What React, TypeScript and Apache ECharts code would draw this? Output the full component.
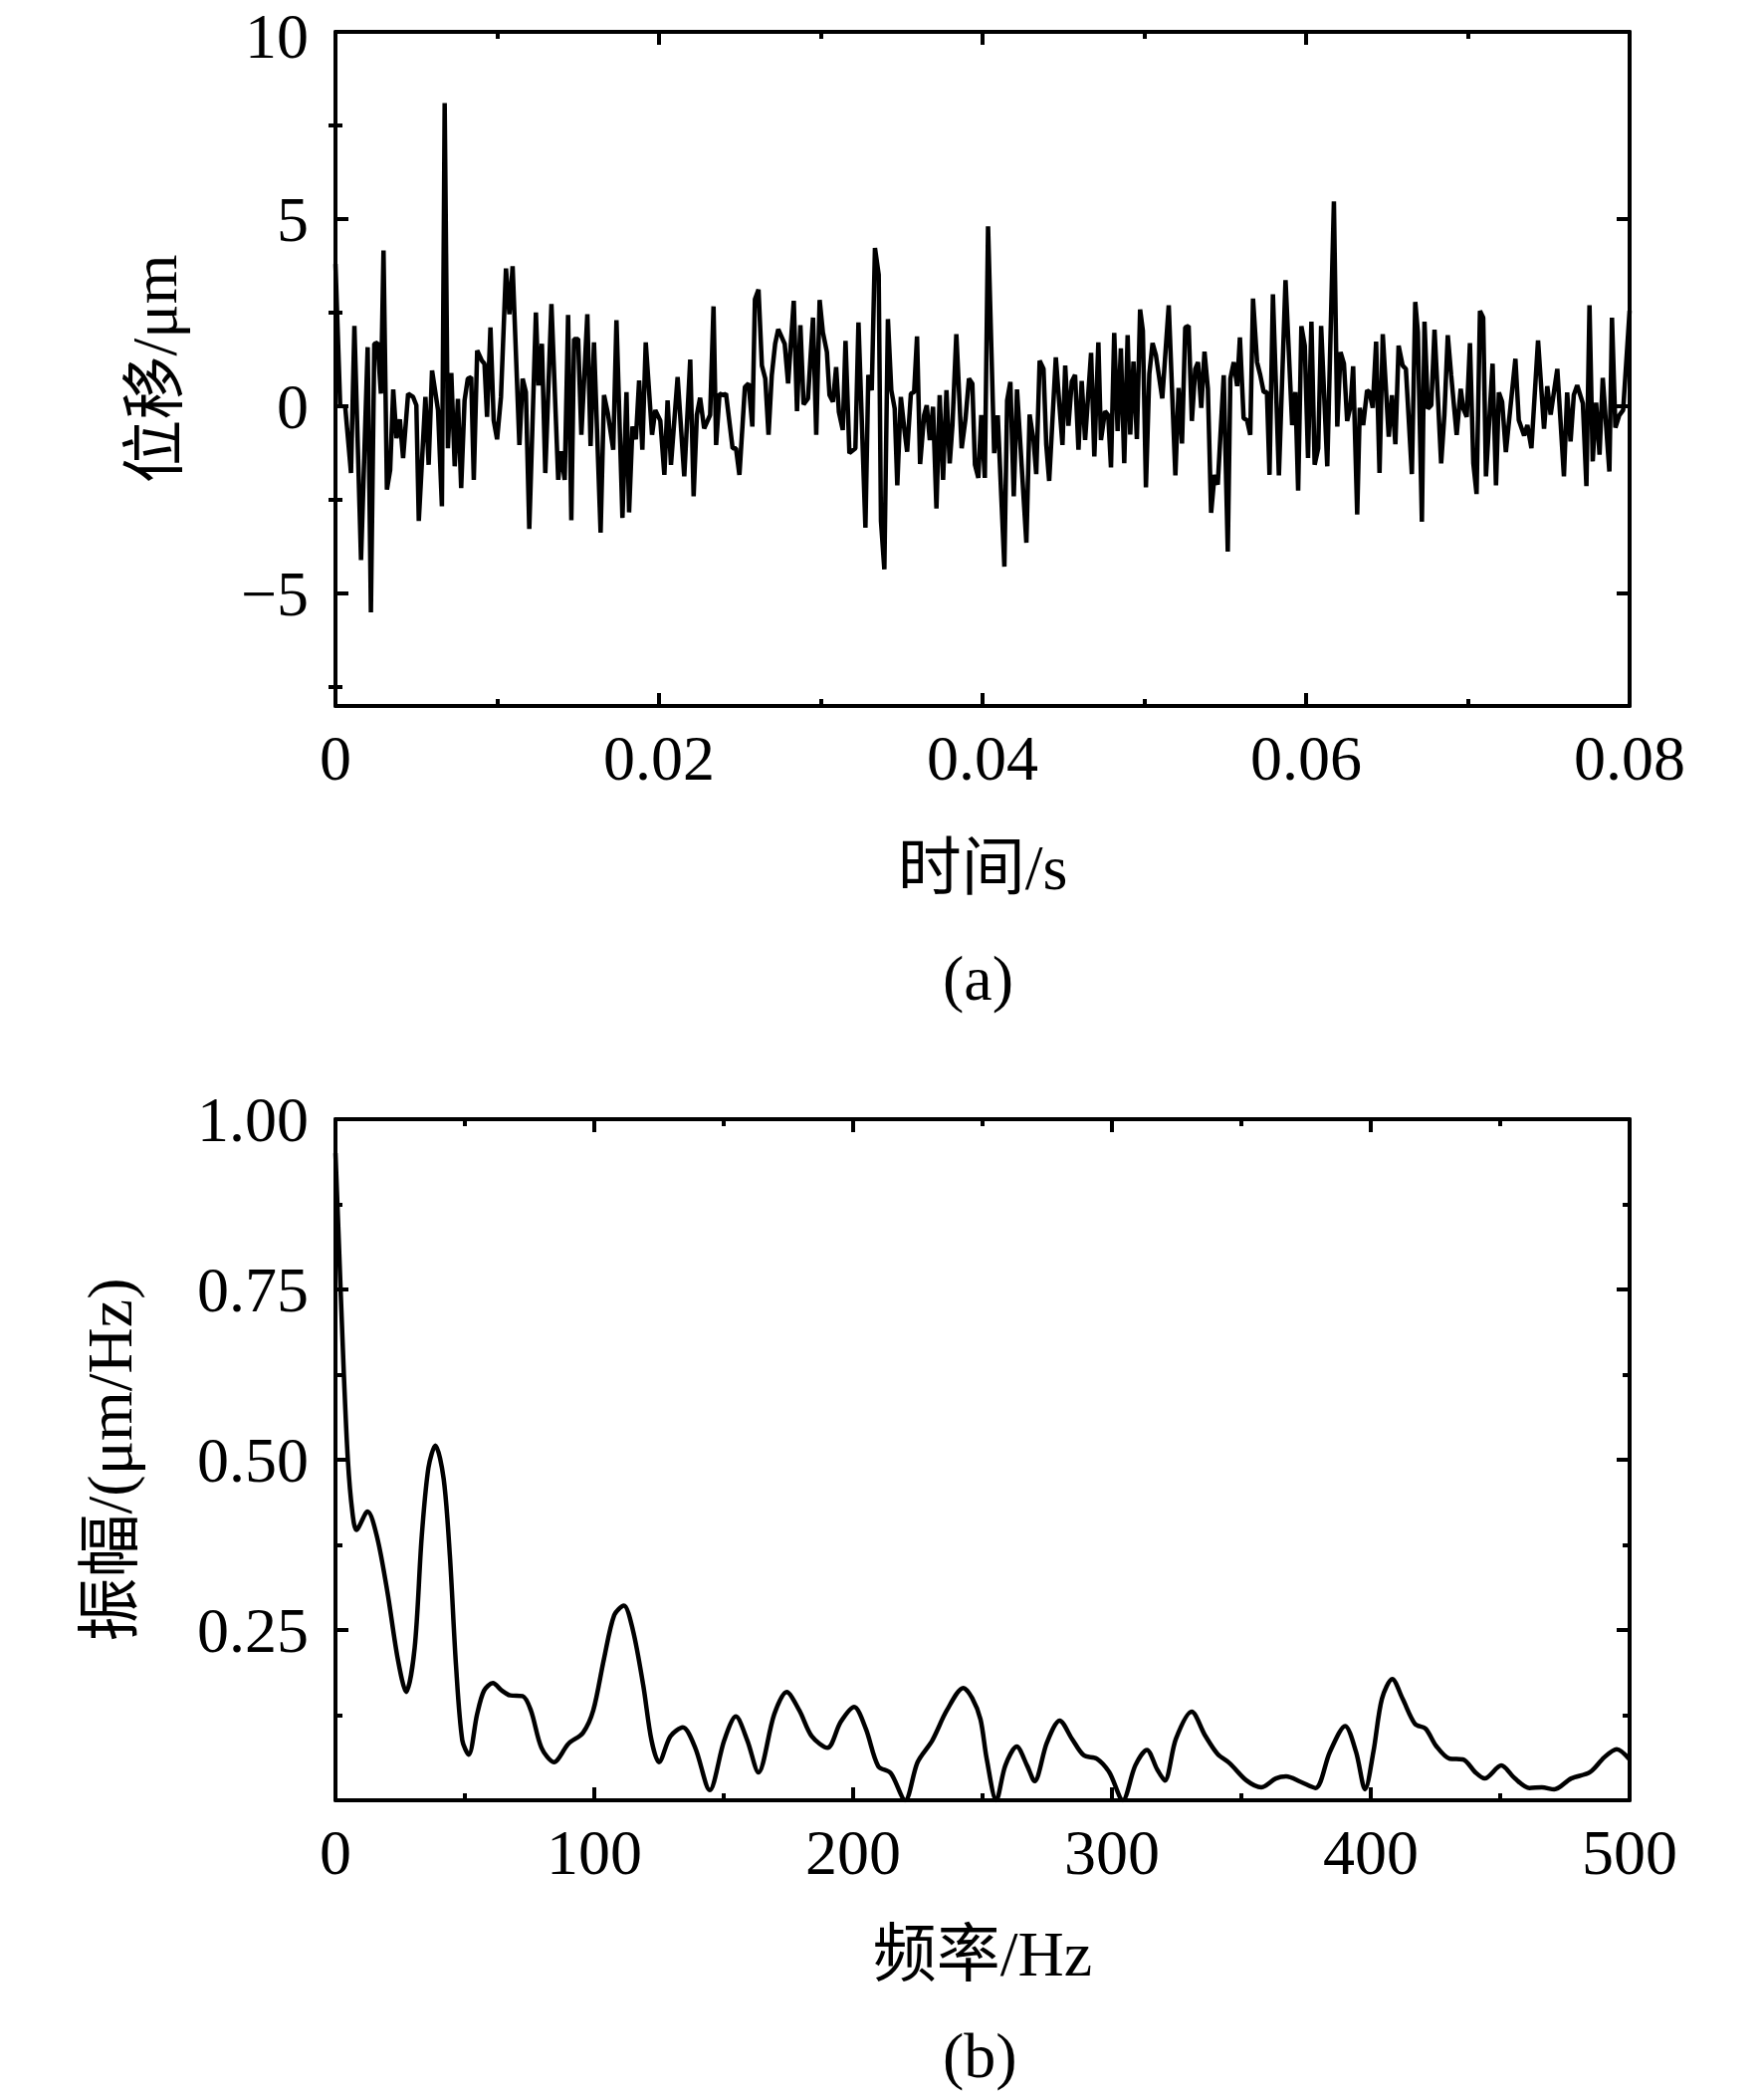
import React, { useEffect, useRef } from "react";
import * as echarts from "echarts";

// ---------- (a) time signal ----------
const timeMs = [
  0, 0.29, 0.6, 0.96, 1.17, 1.58, 1.99, 2.19, 2.4, 2.6, 2.81, 2.97, 3.18, 3.38, 3.57, 3.77, 3.98, 4.18, 4.49, 4.8,
  5.0, 5.15, 5.56, 5.76, 5.97, 6.34, 6.58, 6.75, 6.95, 7.16, 7.37, 7.57, 7.77, 7.98, 8.18, 8.39, 8.55, 8.76, 9.05, 9.21,
  9.37, 9.58, 9.78, 9.99, 10.23, 10.54, 10.75, 10.95, 11.37, 11.57, 11.77, 11.98, 12.39, 12.55, 12.76, 12.97, 13.35, 13.77, 13.93, 14.17,
  14.38, 14.58, 14.75, 15.0, 15.2, 15.57, 15.77, 15.98, 16.39, 16.6, 16.84, 17.17, 17.37, 17.74, 17.99, 18.15, 18.36, 18.57, 18.77, 18.97,
  19.18, 19.57, 19.77, 20.08, 20.33, 20.53, 20.74, 21.15, 21.56, 21.93, 22.14, 22.34, 22.54, 22.79, 23.16, 23.37, 23.53, 23.74, 23.98, 24.14,
  24.55, 24.76, 24.97, 25.31, 25.54, 25.77, 25.93, 26.15, 26.36, 26.57, 26.77, 26.97, 27.18, 27.37, 27.77, 27.98, 28.33, 28.53, 28.74, 28.94,
  29.21, 29.52, 29.72, 29.93, 30.13, 30.38, 30.54, 30.75, 30.95, 31.12, 31.36, 31.53, 31.77, 32.14, 32.33, 32.76, 32.94, 33.15, 33.35, 33.58,
  33.72, 33.93, 34.15, 34.36, 34.57, 34.73, 34.95, 35.16, 35.34, 35.57, 35.77, 35.95, 36.14, 36.39, 36.55, 36.74, 36.94, 37.15, 37.35, 37.56,
  37.77, 37.97, 38.14, 38.38, 38.71, 38.95, 39.16, 39.37, 39.53, 39.74, 39.92, 40.14, 40.34, 40.72, 40.94, 41.35, 41.52, 41.72, 41.93, 42.13,
  42.71, 42.91, 43.16, 43.32, 43.53, 43.77, 43.94, 44.12, 44.53, 44.94, 45.11, 45.31, 45.52, 45.72, 45.93, 46.13, 46.34, 46.71, 46.91, 47.16,
  47.32, 47.57, 47.77, 47.94, 48.14, 48.35, 48.55, 48.76, 48.97, 49.13, 49.33, 49.54, 49.74, 49.91, 50.1, 50.31, 50.51, 50.72, 51.11, 51.51,
  51.92, 52.12, 52.33, 52.53, 52.74, 52.94, 53.15, 53.32, 53.52, 53.72, 53.93, 54.13, 54.34, 54.54, 54.91, 55.16, 55.32, 55.53, 55.74, 55.91,
  56.14, 56.35, 56.55, 56.72, 56.97, 57.17, 57.38, 57.58, 57.74, 57.95, 58.32, 58.73, 59.14, 59.34, 59.51, 59.71, 59.92, 60.12, 60.33, 60.53,
  60.75, 60.93, 61.31, 61.72, 61.93, 62.13, 62.34, 62.54, 62.75, 62.91, 63.16, 63.32, 63.53, 63.77, 63.92, 64.12, 64.33, 64.54, 64.74, 65.11,
  65.31, 65.52, 65.72, 65.97, 66.17, 66.54, 66.75, 66.91, 67.16, 67.32, 67.53, 67.74, 67.94, 68.35, 68.55, 68.76, 68.97, 69.31, 69.56, 69.72,
  69.93, 70.13, 70.34, 70.54, 70.75, 70.95, 71.12, 71.53, 71.74, 71.92, 72.12, 72.35, 72.94, 73.15, 73.48, 73.68, 73.93, 74.34, 74.71, 74.91,
  75.12, 75.53, 75.94, 76.14, 76.35, 76.55, 76.76, 77.11, 77.33, 77.52, 77.72, 77.93, 78.14, 78.34, 78.75, 78.91, 79.12, 79.36, 79.6, 80.0,
];
const dispUm = [
  3.8, 0.03, 0, -1.78, 2.15, -4.1, 1.58, -5.5, 1.67, 1.7, 0.34, 4.16, -2.22, -1.7, 0.45, -0.85, -0.35, -1.38, 0.34, 0.25,
  0.03, -3.06, 0.25, -1.56, 0.96, -0.1, -2.67, 8.1, -1.12, 0.89, -1.6, 0.2, -2.18, 0.16, 0.74, 0.78, -1.96, 1.49, 1.22, 1.14,
  -0.28, 2.11, -0.37, -0.88, 0.25, 3.68, 2.46, 3.74, -1.03, 0.74, 0.38, -3.27, 2.51, 0.56, 1.67, -1.78, 2.73, -1.96, -1.2, -1.96,
  2.44, -3.04, 1.8, 1.8, -0.76, 2.46, -1.06, 1.71, -3.37, 0.3, -0.19, -1.16, 2.3, -2.98, 0.38, -2.83, -0.54, -0.88, 0.69, -1.16,
  1.71, -0.76, -0.1, -0.38, -1.83, 0.16, -1.56, 0.78, -1.87, 1.25, -2.4, -0.23, 0.23, -0.59, -0.23, 2.67, -1.03, 0.34, 0.3, 0.34,
  -1.12, -1.12, -1.83, 0.52, 0.61, -0.54, 2.86, 3.12, 1.09, 0.74, -0.76, 0.83, 1.67, 2.06, 1.67, 0.61, 2.82, -0.13, 2.17, 0.05,
  0.21, 2.37, -0.76, 2.84, 1.98, 1.45, 0.3, 0.12, 1.05, -0.15, -0.63, 1.75, -1.25, -1.12, 2.24, -3.24, 0.84, 0.43, 4.23, 3.52,
  -3.06, -4.35, 2.33, 0.43, -0.06, -2.11, 0.25, -0.59, -1.21, 0.34, 0.38, 1.87, -1.54, -0.23, 0.03, -0.9, -0.01, -2.73, 0.3, -1.96,
  0.43, -1.52, -0.5, 1.93, -1.12, -0.32, 0.74, 0.61, -1.56, -1.91, -0.23, -1.91, 4.81, -1.25, -0.24, -4.28, 0.16, 0.65, -2.4, 0.45,
  -3.64, -0.22, -0.94, -1.81, 1.22, 1.0, -1.03, -1.99, 1.31, -1.03, 1.09, -0.52, 0.67, 0.84, -1.16, 0.68, -0.9, 1.43, -1.34, 1.71,
  -0.9, -0.13, -0.24, -1.63, 1.96, -0.66, 1.55, -1.52, 1.9, -0.75, 1.2, -0.87, 2.59, 2.02, -2.16, 0.87, 1.69, 1.36, 0.21, 2.7,
  -1.84, 0.49, -0.99, 2.11, 2.15, -0.39, 1.0, 1.18, -0.04, 1.46, 0.47, -2.84, -1.83, -2.09, 0.83, -3.88, 0.74, 1.18, 0.54, 1.84,
  -0.32, -0.37, -0.76, 2.88, 1.18, 0.83, 0.38, 0.38, -1.83, 2.99, -1.84, 3.37, -0.5, 0.38, -2.25, 2.14, 1.62, -1.38, 2.26, -1.56,
  -1.12, 2.15, -1.6, 5.47, -0.54, 1.45, 1.14, -0.39, 0.01, 1.07, -2.89, -0.04, -0.5, 0.43, 0.38, -0.04, 1.73, -1.78, 1.93, -0.81,
  0.3, -1.01, 1.62, 1.09, 1.0, -1.81, 2.79, 1.98, -3.08, 2.26, -0.06, 0.03, 2.05, -1.52, -0.23, 1.9, 0.83, -0.76, 0.47, -0.06,
  -0.28, 1.69, -1.52, -2.34, 2.55, 2.37, -1.87, 1.14, -2.11, 0.37, 0.12, -1.22, 1.27, -0.37, -0.78, -0.5, -1.12, 1.76, -0.6, 0.54,
  -0.22, 1.0, -1.87, 0.37, -0.94, 0.3, 0.56, 0.08, -2.13, 2.7, -1.47, 0.1, -1.29, 0.76, -1.74, 2.37, -0.57, -0.24, -0.1, 2.55,
];

// ---------- (b) spectrum ----------
const freqHz = [
  0, 1, 3.2, 4.8, 6.5, 8.1, 12.4, 16.1, 20.1, 24.1, 27.3, 30.6, 33.3, 35.9, 38.6, 41.8, 44.2, 46.6, 49.0, 51.5,
  54.7, 57.4, 60.8, 64.3, 67.5, 72.3, 75.5, 79.6, 84.4, 90, 95.6, 99.6, 103.7, 107.7, 111.4, 114.9, 118.9, 122.1, 125, 129.4,
  134.2, 139, 144.6, 150.2, 154.7, 159.1, 163.4, 169.5, 174.3, 179.2, 184, 190.1, 195.2, 200.4, 204.9, 209.7, 214.5, 220.1, 224.9, 230.6,
  236.2, 242.6, 246, 249.2, 251.6, 255.3, 258.8, 263.2, 267.2, 270.1, 274.9, 279.8, 284.6, 289.1, 294.2, 299, 304.2, 309, 313.5, 317.5,
  320.4, 324.7, 330.8, 336, 340.8, 345.6, 352, 357.7, 363.3, 367.3, 372.9, 378.6, 384.2, 390.1, 394.3, 397.8, 401, 404.3, 408.3, 412.3,
  417.1, 421.2, 425.2, 430.5, 435.6, 440.4, 444, 450.4, 455.7, 461.3, 466.1, 470.9, 477.4, 484.6, 490.2, 495, 500,
];
const amplitude = [
  0.95, 0.85, 0.629, 0.499, 0.424, 0.397, 0.424, 0.386, 0.305, 0.207, 0.159, 0.224, 0.386, 0.488, 0.521, 0.472, 0.359, 0.196, 0.088, 0.067,
  0.126, 0.161, 0.172, 0.161, 0.154, 0.153, 0.132, 0.077, 0.056, 0.083, 0.099, 0.132, 0.207, 0.272, 0.286, 0.25, 0.169, 0.088, 0.056, 0.094,
  0.107, 0.077, 0.015, 0.088, 0.123, 0.088, 0.041, 0.126, 0.159, 0.132, 0.094, 0.077, 0.115, 0.137, 0.105, 0.05, 0.04, 0.0, 0.056, 0.088,
  0.132, 0.165, 0.15, 0.119, 0.061, 0.0, 0.051, 0.079, 0.051, 0.028, 0.085, 0.117, 0.09, 0.066, 0.061, 0.041, 0.0, 0.051, 0.074, 0.045,
  0.029, 0.09, 0.13, 0.095, 0.068, 0.054, 0.029, 0.019, 0.032, 0.035, 0.027, 0.018, 0.071, 0.109, 0.071, 0.016, 0.071, 0.149, 0.178, 0.149,
  0.112, 0.105, 0.08, 0.061, 0.06, 0.041, 0.032, 0.051, 0.032, 0.018, 0.019, 0.016, 0.032, 0.041, 0.063, 0.075, 0.06,
];

// ---------- ticks ----------
const yMajorA = [-5, 0, 5, 10];
const yMinorA = [-7.5, -2.5, 2.5, 7.5];

const FONT = "'Liberation Serif', 'Times New Roman', 'Noto Sans CJK SC', serif";
const BLACK = "#000";
const FS = 64;

const lineStyle = { color: BLACK, width: 4 };
const majorTick = { show: true, inside: true, length: 13, lineStyle: { color: BLACK, width: 4 } };
const minorTick = { show: true, splitNumber: 2, length: 7, lineStyle: { color: BLACK, width: 4 } };
const labelStyle = { color: BLACK, fontSize: FS, fontFamily: FONT };

function fmtNum(v: number) {
  return v < 0 ? "\u2212" + Math.abs(v) : String(v);
}

export default function App() {
  const ref = useRef<HTMLDivElement>(null);
  useEffect(() => {
    if (!ref.current) return;
    const chart = echarts.init(ref.current, null, { renderer: "svg" });
    const seriesA = timeMs.map((t, i) => [t / 1000, dispUm[i]]);
    const seriesB = freqHz.map((f, i) => [f, amplitude[i]]);

    const gridA = { left: 337, top: 32, width: 1300, height: 677, outerBoundsMode: "none", containLabel: false };
    const gridB = { left: 337, top: 1124, width: 1300, height: 684, outerBoundsMode: "none", containLabel: false };

    const baseX = (gridIndex: number, min: number, max: number, interval: number) => ({
      type: "value",
      gridIndex,
      min,
      max,
      interval,
      axisLine: { show: true, onZero: false, lineStyle },
      axisTick: majorTick,
      minorTick,
      splitLine: { show: false },
      minorSplitLine: { show: false },
    });

    const option: any = {
      animation: false,
      backgroundColor: "#fff",
      textStyle: { fontFamily: FONT, color: BLACK },
      grid: [gridA, gridB],
      xAxis: [
        {
          ...baseX(0, 0, 0.08, 0.02),
          position: "bottom",
          name: "时间/s",
          nameLocation: "middle",
          nameGap: 130,
          nameTextStyle: labelStyle,
          axisLabel: {
            ...labelStyle,
            margin: 20,
            formatter: (v: number) => (v === 0 ? "0" : v.toFixed(2)),
          },
        },
        { ...baseX(0, 0, 0.08, 0.02), position: "top", axisLabel: { show: false } },
        {
          ...baseX(1, 0, 500, 100),
          position: "bottom",
          name: "频率/Hz",
          nameLocation: "middle",
          nameGap: 122,
          nameTextStyle: labelStyle,
          axisLabel: { ...labelStyle, margin: 20 },
        },
        { ...baseX(1, 0, 500, 100), position: "top", axisLabel: { show: false } },
      ],
      yAxis: [
        {
          type: "value",
          gridIndex: 0,
          position: "left",
          min: -8,
          max: 10,
          name: "位移/μm",
          nameLocation: "middle",
          nameGap: 150,
          nameTextStyle: labelStyle,
          axisLine: { show: true, onZero: false, lineStyle },
          axisTick: { ...majorTick, customValues: yMajorA },
          axisLabel: {
            ...labelStyle,
            lineHeight: 56,
            margin: 27,
            customValues: yMajorA,
            formatter: (v: number) => (v === 10 ? "{top|10}" : fmtNum(v)),
            rich: {
              top: { ...labelStyle, lineHeight: 56, padding: [8, 0, 0, 0] },
            },
          },
          splitLine: { show: false },
        },
        {
          type: "value",
          gridIndex: 0,
          position: "right",
          min: -8,
          max: 10,
          axisLine: { show: true, onZero: false, lineStyle },
          axisTick: { ...majorTick, customValues: yMajorA },
          axisLabel: { show: false },
          splitLine: { show: false },
        },
        {
          type: "value",
          gridIndex: 0,
          position: "left",
          min: -8,
          max: 10,
          axisLine: { show: false },
          axisTick: { show: true, inside: true, length: 7, lineStyle: { color: BLACK, width: 4 }, customValues: yMinorA },
          axisLabel: { show: false },
          splitLine: { show: false },
        },
        {
          type: "value",
          gridIndex: 0,
          position: "right",
          min: -8,
          max: 10,
          axisLine: { show: false },
          axisTick: { show: true, inside: true, length: 7, lineStyle: { color: BLACK, width: 4 }, customValues: yMinorA },
          axisLabel: { show: false },
          splitLine: { show: false },
        },
        {
          type: "value",
          gridIndex: 1,
          position: "left",
          min: 0,
          max: 1,
          interval: 0.25,
          name: "振幅/(μm/Hz)",
          nameLocation: "middle",
          nameGap: 195,
          nameTextStyle: labelStyle,
          axisLine: { show: true, onZero: false, lineStyle },
          axisTick: majorTick,
          minorTick,
          axisLabel: {
            ...labelStyle,
            margin: 27,
            formatter: (v: number) => (v === 0 ? "" : v.toFixed(2)),
          },
          splitLine: { show: false },
          minorSplitLine: { show: false },
        },
        {
          type: "value",
          gridIndex: 1,
          position: "right",
          min: 0,
          max: 1,
          interval: 0.25,
          axisLine: { show: true, onZero: false, lineStyle },
          axisTick: majorTick,
          minorTick,
          axisLabel: { show: false },
          splitLine: { show: false },
          minorSplitLine: { show: false },
        },
      ],
      graphic: [
        { type: "text", left: 987 - 40, top: 950, style: { text: "(a)", font: `${FS}px ${FONT}`, fill: BLACK }, z: 10 },
        { type: "text", left: 987 - 40, top: 2032, style: { text: "(b)", font: `${FS}px ${FONT}`, fill: BLACK }, z: 10 },
      ],
      series: [
        {
          type: "line",
          xAxisIndex: 0,
          yAxisIndex: 0,
          data: seriesA,
          showSymbol: false,
          symbol: "none",
          lineStyle: { color: BLACK, width: 4.5 },
          clip: true,
          z: 5,
        },
        {
          type: "line",
          xAxisIndex: 2,
          yAxisIndex: 4,
          data: seriesB,
          showSymbol: false,
          symbol: "none",
          smooth: 0.3,
          lineStyle: { color: BLACK, width: 4.5 },
          clip: true,
          z: 5,
        },
      ],
    };
    chart.setOption(option);
    return () => chart.dispose();
  }, []);

  return (
    <div
      ref={ref}
      style={{ position: "absolute", left: 0, top: 0, width: 1772, height: 2108, background: "#fff" }}
    />
  );
}
